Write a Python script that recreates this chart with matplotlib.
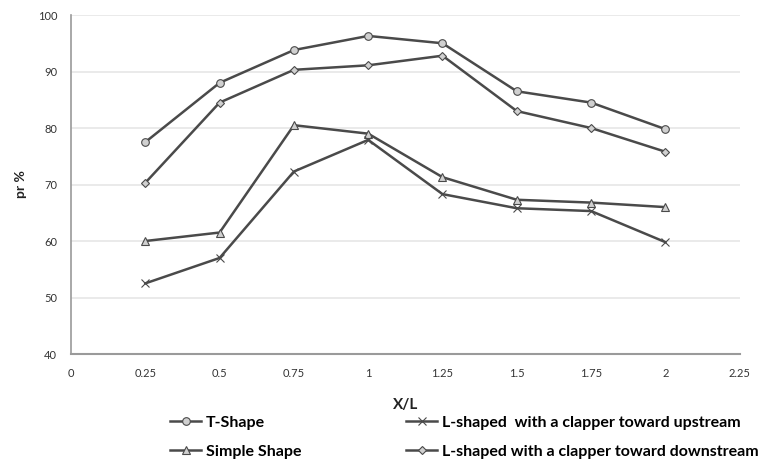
import matplotlib.pyplot as plt
import numpy as np

plt.rcParams['font.family'] = ['Lato', 'DejaVu Sans']

# Données
x_l = [0.25, 0.5, 0.75, 1.0, 1.25, 1.5, 1.75, 2.0]
t_shape = [77.5, 88.0, 93.8, 96.3, 95.0, 86.5, 84.5, 79.8]
simple_shape = [60.0, 61.5, 80.5, 79.0, 71.3, 67.3, 66.8, 66.0]
l_upstream = [52.5, 57.0, 72.3, 77.9, 68.3, 65.8, 65.3, 59.8]
l_downstream = [70.3, 84.5, 90.3, 91.1, 92.8, 83.0, 80.0, 75.8]

x_ticks = [0, 0.25, 0.5, 0.75, 1, 1.25, 1.5, 1.75, 2, 2.25]
x_tick_labels = ['0', '0.25', '0.5', '0.75', '1', '1.25', '1.5', '1.75', '2', '2.25']
y_ticks = [40, 50, 60, 70, 80, 90, 100]

line_color = '#4a4a4a'
marker_face = '#d0d0d0'

fig = plt.figure(figsize=(7.61, 4.65), dpi=100)
ax = fig.add_axes([0.0933, 0.2387, 0.8787, 0.729])

style = dict(color=line_color, linewidth=1.8, markersize=5.5,
             markerfacecolor=marker_face, markeredgecolor=line_color, markeredgewidth=0.8)

h1, = ax.plot(x_l, t_shape, marker='o', label='T-Shape', **style)
h2, = ax.plot(x_l, simple_shape, marker='^', label='Simple Shape', **style)
h3, = ax.plot(x_l, l_upstream, marker='x', label='L-shaped  with a clapper toward upstream', **style)
h4, = ax.plot(x_l, l_downstream, marker='D', label='L-shaped with a clapper toward downstream',
              **dict(style, markersize=4.5))

# Axes
ax.set_xlim(0, 2.25)
ax.set_ylim(40, 100)
ax.set_xticks(x_ticks, x_tick_labels)
ax.set_yticks(y_ticks)
ax.tick_params(axis='both', length=0, labelsize=8, colors='#333333', pad=10)
ax.yaxis.grid(True, color='#e6e6e6', linewidth=1.2)
ax.set_axisbelow(True)
for s in ['top', 'right']:
    ax.spines[s].set_visible(False)
ax.spines['left'].set_color('#9a9a9a')
ax.spines['bottom'].set_color('#9a9a9a')
ax.spines['left'].set_linewidth(1.2)
ax.spines['bottom'].set_linewidth(1.5)

ax.set_xlabel('X/L', fontsize=11, fontweight='bold', color='#222222', labelpad=14)
ax.set_ylabel('pr %', fontsize=10, fontweight='bold', color='#222222', labelpad=8)

fig.legend(handles=[h1, h2, h3, h4], ncol=2, loc='lower left',
           bbox_to_anchor=(0.205, -0.018), frameon=False,
           prop={'size': 11.5, 'weight': 'bold'}, handlelength=1.9,
           columnspacing=6.6, labelspacing=0.95, handletextpad=0.3)

fig.savefig('out.png', dpi=100)
